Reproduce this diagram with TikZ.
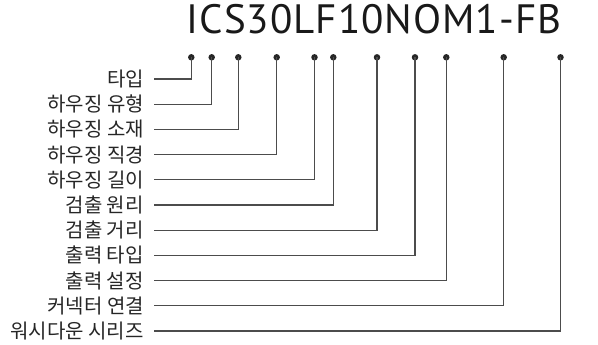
\documentclass[tikz,border=0pt]{standalone}
\usepackage{fontspec}
\setmainfont{PT Sans}
\newfontfamily\titlefont{PT Sans}[LetterSpace=2.5]
\newfontfamily\kr{Noto Sans CJK KR}
\begin{document}
\begin{tikzpicture}[x=1pt,y=-1pt,
  lab/.style={anchor=east,inner sep=0pt,font=\kr\fontsize{20}{20}\selectfont,text=black!85},
  dot/.style={circle,fill=black!85,minimum size=6.5pt,inner sep=0pt},
  conn/.style={draw=black!70,line width=1.2pt,shorten <=10pt}]
\useasboundingbox (0,0) rectangle (598,345);
\node[anchor=base west,inner sep=0pt,font=\titlefont\fontsize{41}{41}\selectfont,text=black!90] (title) at (186.5,33.3) {ICS30LF10NOM1-FB};
\foreach \i/\x in {1/191.3,2/211.7,3/238.3,4/276.7,5/314.5,6/333.3,7/377,8/415,9/446.3,10/503.7,11/560.5}
  \node[dot] (d\i) at (\x,57.3) {};
\foreach \i/\t in {1/타입,2/하우징 유형,3/하우징 소재,4/하우징 직경,5/하우징 길이,6/검출 원리,7/검출 거리,8/출력 타입,9/출력 설정,10/커넥터 연결,11/워시다운 시리즈}
  \node[lab] (l\i) at (144,{79+(\i-1)*25.2}) {\t};
\foreach \i in {1,...,11}
  \draw[conn] (l\i.east) -- (l\i.east -| d\i.center) -- (d\i.center);
\end{tikzpicture}
\end{document}
